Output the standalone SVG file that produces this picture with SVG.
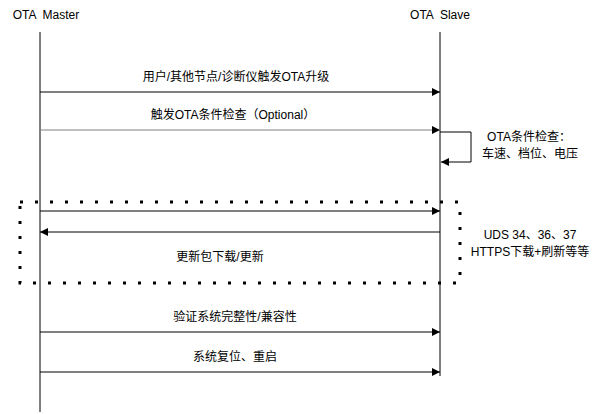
<svg xmlns="http://www.w3.org/2000/svg" width="605" height="414" viewBox="0 0 605 414">
<style>
text{font-family:"Liberation Sans","Noto Sans CJK SC",sans-serif;font-size:12px;fill:#000;text-anchor:middle}
.life{stroke:#000;stroke-width:1;fill:none}
.msg{stroke:#000;stroke-width:1;fill:none;marker-end:url(#ah)}
.gray{stroke:#808080}
.box{stroke:#000;stroke-width:3;fill:none;stroke-dasharray:3 12}
</style>
<defs>
<marker id="ah" viewBox="0 0 10 10" refX="10" refY="5" markerWidth="8" markerHeight="8" markerUnits="userSpaceOnUse" orient="auto">
<path d="M0,0 L10,5 L0,10 z" fill="#000"/>
</marker>
</defs>
<rect width="605" height="414" fill="#fff"/>
<g id="master">
<text x="46" y="19" xml:space="preserve">OTA  Master</text>
<line class="life" x1="40" y1="32" x2="40" y2="412"/>
</g>
<g id="slave">
<text x="440" y="19" xml:space="preserve">OTA  Slave</text>
<line class="life" x1="440" y1="32" x2="440" y2="376"/>
</g>
<g id="loop-group">
<rect class="box" x="20" y="202" width="440" height="81"/>
<text x="530" y="239">UDS 34、36、37</text>
<text x="530" y="256">HTTPS下载+刷新等等</text>
</g>
<g id="connectors">
<line class="msg" x1="40" y1="92" x2="440" y2="92"/>
<text x="236" y="81">用户/其他节点/诊断仪触发OTA升级</text>
<line class="msg gray" x1="40" y1="130" x2="440" y2="130"/>
<text x="233" y="119">触发OTA条件检查（Optional）</text>
<path class="msg" d="M440,132 H471 V162 H441"/>
<text x="529" y="141">OTA条件检查：</text>
<text x="530" y="158">车速、档位、电压</text>
<line class="msg" x1="40" y1="211" x2="440" y2="211"/>
<line class="msg" x1="440" y1="232" x2="40" y2="232"/>
<text x="220" y="261">更新包下载/更新</text>
<line class="msg" x1="40" y1="332" x2="440" y2="332"/>
<text x="235" y="321">验证系统完整性/兼容性</text>
<line class="msg" x1="40" y1="372" x2="440" y2="372"/>
<text x="235" y="361">系统复位、重启</text>
</g>
</svg>
